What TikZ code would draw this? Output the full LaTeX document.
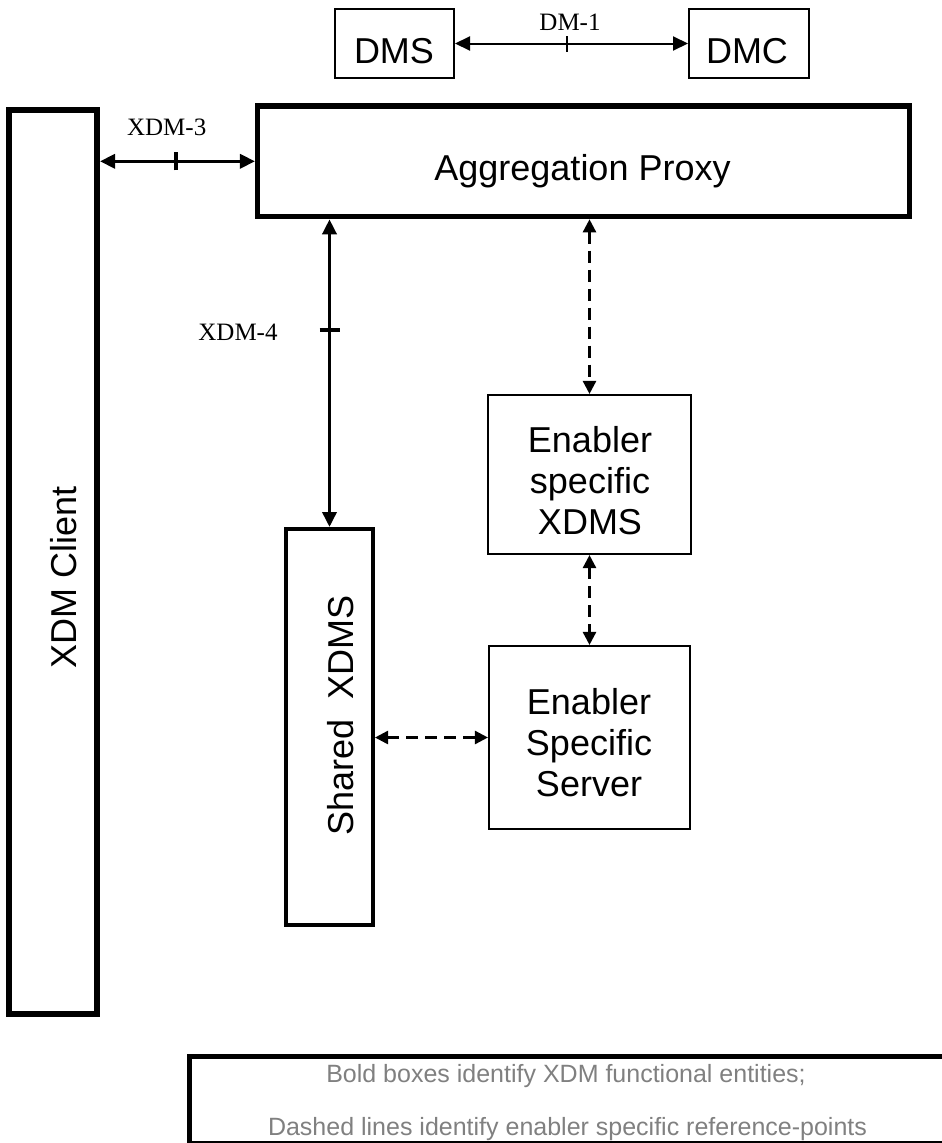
\documentclass[tikz,border=0pt]{standalone}
\usepackage{fontspec}
\setmainfont{Liberation Sans}
\newfontfamily\reffont{Liberation Serif}
\usetikzlibrary{arrows.meta}
\begin{document}
\begin{tikzpicture}[x=1bp,y=-1bp,
  box/.style={draw, rectangle, inner sep=0pt},
  boldbox/.style={box, line width=5.5bp},
  thinbox/.style={box, line width=1.6bp},
  lbl/.style={font=\fontsize{36bp}{41bp}\selectfont, inner sep=0pt},
  reflbl/.style={font=\reffont\fontsize{25bp}{28bp}\selectfont, inner sep=0pt, anchor=base},
  legtxt/.style={font=\fontsize{25bp}{28bp}\selectfont, text=black!50, inner sep=0pt, anchor=base},
  refarrow/.style={line width=3.5bp, {Triangle[length=15bp,width=14bp]}-{Triangle[length=15bp,width=14bp]}},
  dasharrow/.style={line width=2.5bp, dash pattern=on 12bp off 7bp, {Triangle[length=13bp,width=13bp]}-{Triangle[length=13bp,width=13bp]}},
  tickline/.style={line width=3.5bp}
]
\useasboundingbox (0,0) rectangle (942,1143);

% boxes
\node[boldbox, line width=6bp, minimum width=88bp, minimum height=904bp] (client) at (53,562) {};
\node[boldbox, minimum width=651.5bp, minimum height=110.5bp] (agg) at (583.5,161.3) {};
\node[box, line width=2bp, minimum width=119bp, minimum height=69bp] (dms) at (394.5,43.5) {};
\node[box, line width=2bp, minimum width=120bp, minimum height=69bp] (dmc) at (749,43.5) {};
\node[box, line width=4bp, minimum width=87bp, minimum height=396bp] (shared) at (329.5,727) {};
\node[thinbox, minimum width=203.5bp, minimum height=159.5bp] (exdms) at (589.5,474.5) {};
\node[thinbox, minimum width=201.5bp, minimum height=183.5bp] (eserver) at (589.5,737.5) {};

% box texts
\node[lbl, anchor=base] (dmst) at (394,63) {DMS};
\node[lbl, anchor=base] (dmct) at (747,63) {DMC};
\node[lbl, anchor=base] (aggt) at (582.5,180) {Aggregation Proxy};
\node[lbl, rotate=90] (clientt) at (64,577) {XDM Client};
\node[lbl, rotate=90] (sharedt) at (341,715) {Shared\ \ XDMS};
\node[lbl, align=center] (exdmst) at (590,481) {Enabler\\specific\\XDMS};
\node[lbl, align=center] (eservert) at (589,743) {Enabler\\Specific\\Server};

% reference points
\draw[refarrow, line width=2bp] (dms.east) -- coordinate[pos=0.48] (t1) (dmc.west);
\draw[tickline, line width=2bp] ([yshift=-8bp]t1) -- ([yshift=8bp]t1);
\node[reflbl] (dm1) at (570,30) {DM-1};

\draw[refarrow] (client.east |- agg.west) -- coordinate[pos=0.49] (t3) (agg.west);
\draw[tickline] ([yshift=-9bp]t3) -- ([yshift=9bp]t3);
\node[reflbl] (xdm3) at (166.7,135) {XDM-3};

\draw[refarrow] (shared.north |- agg.south) -- coordinate[pos=0.36] (t4) (shared.north);
\draw[tickline] ([xshift=-10bp]t4) -- ([xshift=10bp]t4);
\node[reflbl] (xdm4) at (238,340) {XDM-4};

% enabler specific reference points
\draw[dasharrow] (exdms.north |- agg.south) -- (exdms.north);
\draw[dasharrow] (exdms.south) -- (eserver.north);
\draw[dasharrow] (shared.east |- eserver.west) -- (eserver.west);

% legend
\node[legtxt] (leg1) at (566,1082) {Bold boxes identify XDM functional entities;};
\node[legtxt] (leg2) at (567.5,1135) {Dashed lines identify enabler specific reference-points};
\node[box, line width=5bp, minimum width=770.5bp, minimum height=87bp] (legend) at (574.75,1100) {};
\end{tikzpicture}
\end{document}
